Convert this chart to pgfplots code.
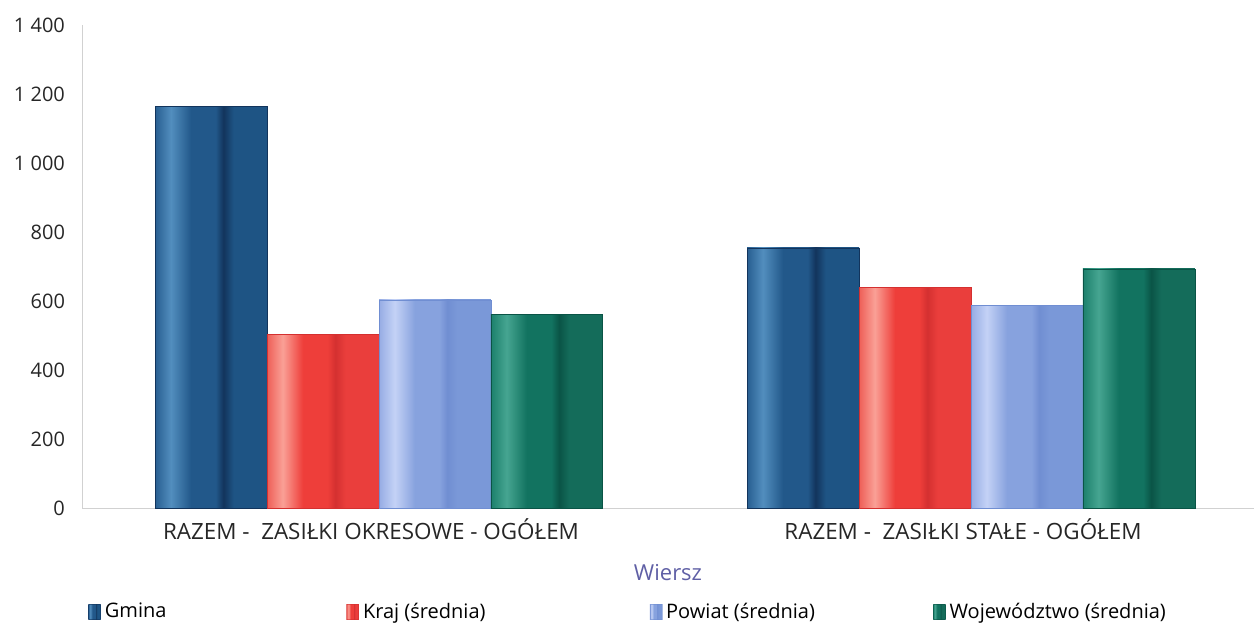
\documentclass[border=0pt]{standalone}
\usepackage{pgfplots}
\pgfplotsset{compat=1.18}
\usepackage{fontspec}
\setmainfont{Open Sans}

% bar colours: edge, light stripe, middle, dark stripe, right part
\definecolor{gA}{RGB}{40,95,145}\definecolor{gL}{RGB}{82,142,190}\definecolor{gM}{RGB}{34,88,138}\definecolor{gD}{RGB}{18,52,92}\definecolor{gR}{RGB}{30,84,132}
\definecolor{kA}{RGB}{238,95,88}\definecolor{kL}{RGB}{250,160,150}\definecolor{kM}{RGB}{238,62,58}\definecolor{kD}{RGB}{212,48,48}\definecolor{kR}{RGB}{234,62,60}
\definecolor{pA}{RGB}{150,172,228}\definecolor{pL}{RGB}{196,210,246}\definecolor{pM}{RGB}{135,162,222}\definecolor{pD}{RGB}{112,142,210}\definecolor{pR}{RGB}{122,152,216}
\definecolor{wA}{RGB}{28,128,108}\definecolor{wL}{RGB}{70,165,145}\definecolor{wM}{RGB}{18,115,96}\definecolor{wD}{RGB}{10,84,70}\definecolor{wR}{RGB}{20,108,90}
\definecolor{wiersz}{RGB}{95,95,165}

\newcommand{\mkshade}[6]{\pgfdeclarehorizontalshading{#1}{100bp}{color(0bp)=(#2); color(25bp)=(#2); color(32bp)=(#3); color(41bp)=(#4); color(52bp)=(#4); color(55.5bp)=(#5); color(60bp)=(#6); color(75bp)=(#6); color(100bp)=(#6)}}
\mkshade{shG}{gA}{gL}{gM}{gD}{gR}
\mkshade{shK}{kA}{kL}{kM}{kD}{kR}
\mkshade{shP}{pA}{pL}{pM}{pD}{pR}
\mkshade{shW}{wA}{wL}{wM}{wD}{wR}

\pgfplotsset{
  sGmina/.style={bar shift=-0.2835, shading=shG, draw=gD, line width=0.3pt},
  sKraj/.style={bar shift=-0.0945, shading=shK, draw=kD, line width=0.3pt},
  sPowiat/.style={bar shift=0.0945, shading=shP, draw=pD, line width=0.3pt},
  sWoj/.style={bar shift=0.2835, shading=shW, draw=wD, line width=0.3pt},
}

\begin{document}
\begin{tikzpicture}
\useasboundingbox (0,0) rectangle (627pt,314.5pt);
\begin{axis}[
    at={(41pt,60.5pt)}, anchor=south west,
    scale only axis, width=586pt, height=241.5pt,
    ybar=0pt, bar width=0.189,
    xmin=-0.5017, xmax=1.478,
    ymin=0, ymax=1400,
    ytick={0,200,...,1400},
    xtick={0,1},
    xticklabels={RAZEM -\ \ ZASIŁKI OKRESOWE - OGÓŁEM, RAZEM -\ \ ZASIŁKI STAŁE - OGÓŁEM},
    axis lines*=left,
    axis line style={-, draw=black!18},
    tick style={draw=none},
    /pgf/number format/assume math mode=true,
    /pgf/number format/1000 sep={\ },
    ticklabel style={font=\fontsize{10}{12}\selectfont, text=black!85},
    yticklabel style={xshift=-5pt},
    xticklabel style={yshift=2.5pt, xshift=-4pt, font=\fontsize{11.2}{13}\selectfont},
    xlabel={Wiersz},
    xlabel style={at={(axis description cs:0.5,-0.1346)}, anchor=center, font=\fontsize{11}{13}\selectfont, text=wiersz},
    legend columns=4,
    legend style={at={(axis description cs:0.005,-0.215)}, anchor=west, draw=none, fill=none,
      inner sep=0pt, font=\fontsize{10}{12}\selectfont,
      /tikz/column 2/.style={column sep=88pt},
      /tikz/column 4/.style={column sep=80pt},
      /tikz/column 6/.style={column sep=57pt}},
    legend image code/.code={\draw[#1, draw opacity=0.6] (0pt,-3.8pt) rectangle (6pt,3.8pt);},
]
% each bar is its own plot, so that its shading fits that bar alone
\addplot[sGmina] coordinates {(0,1165)};
\addplot[sKraj] coordinates {(0,504)};
\addplot[sPowiat] coordinates {(0,603)};
\addplot[sWoj] coordinates {(0,562)};
\addplot[sGmina, forget plot] coordinates {(1,754)};
\addplot[sKraj, forget plot] coordinates {(1,640)};
\addplot[sPowiat, forget plot] coordinates {(1,588)};
\addplot[sWoj, forget plot] coordinates {(1,693)};
\legend{Gmina, Kraj (średnia), Powiat (średnia), Województwo (średnia)}
\end{axis}
\end{tikzpicture}
\end{document}
